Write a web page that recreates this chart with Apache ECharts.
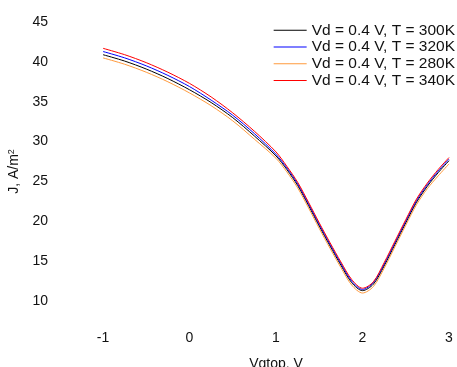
<!DOCTYPE html>
<html>
<head>
<meta charset="utf-8">
<script src="https://cdn.jsdelivr.net/npm/echarts@6/dist/echarts.min.js"></script>
<style>
  html, body { margin: 0; padding: 0; background: #fff; }
  #chart { width: 457px; height: 367px; }
</style>
</head>
<body>
<div id="chart"></div>
<script>
const vgtop = [-1, -0.75, -0.5, -0.25, 0, 0.25, 0.5, 0.75, 1, 1.125, 1.25, 1.375, 1.5, 1.625, 1.75, 1.875, 2, 2.125, 2.25, 2.375, 2.5, 2.625, 2.75, 2.875, 3]

const j300 = [40.9, 40.1, 39.1, 37.9, 36.5, 34.9, 33.0, 30.7, 28.2, 26.5, 24.5, 22.0, 19.4, 16.9, 14.5, 12.3, 11.3, 12.1, 14.4, 17.1, 19.8, 22.4, 24.4, 26.1, 27.6]
const j320 = [41.3, 40.5, 39.5, 38.3, 36.9, 35.2, 33.3, 31.0, 28.4, 26.7, 24.7, 22.2, 19.6, 17.1, 14.7, 12.5, 11.45, 12.3, 14.6, 17.3, 20.0, 22.6, 24.6, 26.3, 27.8]
const j280 = [40.5, 39.7, 38.7, 37.5, 36.1, 34.5, 32.6, 30.3, 27.9, 26.2, 24.2, 21.7, 19.1, 16.6, 14.2, 12.0, 11.0, 11.8, 14.1, 16.8, 19.5, 22.1, 24.1, 25.7, 27.2]
const j340 = [41.7, 40.9, 39.9, 38.7, 37.3, 35.6, 33.6, 31.3, 28.7, 26.9, 24.9, 22.4, 19.8, 17.3, 14.9, 12.7, 11.6, 12.4, 14.8, 17.5, 20.2, 22.8, 24.8, 26.5, 28.0]

const seriesNames = ['Vd = 0.4 V, T = 300K', 'Vd = 0.4 V, T = 320K', 'Vd = 0.4 V, T = 280K', 'Vd = 0.4 V, T = 340K']
const seriesData = [j300, j320, j280, j340]
const seriesColors = ['#000000', '#0000ff', '#ff9a3c', '#ff0000']

const font = 'Liberation Sans, Arial, sans-serif'

const chart = echarts.init(document.getElementById('chart'), null, { renderer: 'canvas' })

const series = seriesNames.map((name, i) => ({
  name,
  type: 'line',
  smooth: 0.3,
  showSymbol: false,
  symbol: 'none',
  color: seriesColors[i],
  lineStyle: { width: 1, color: seriesColors[i] },
  data: vgtop.map((x, k) => [x, seriesData[i][k]])
}))

chart.setOption({
  backgroundColor: '#fff',
  animation: false,
  textStyle: { fontFamily: font },
  grid: { left: 103, right: 8, top: 22, bottom: 66, outerBoundsMode: 'none' },
  legend: {
    orient: 'vertical',
    right: 2,
    top: 22,
    padding: 0,
    icon: 'rect',
    itemWidth: 33,
    itemHeight: 1,
    itemGap: 0,
    textStyle: { fontFamily: font, fontSize: 15.5, color: '#111', lineHeight: 16.7 },
    data: seriesNames
  },
  xAxis: {
    type: 'value',
    min: -1,
    max: 3,
    interval: 1,
    name: 'Vgtop, V',
    nameLocation: 'middle',
    nameGap: 56,
    nameTextStyle: { fontFamily: font, fontSize: 14, color: '#111' },
    axisLine: { show: false },
    axisTick: { show: false },
    splitLine: { show: false },
    axisLabel: { margin: 30, fontSize: 14, color: '#111', fontFamily: font }
  },
  yAxis: {
    type: 'value',
    min: 10,
    max: 45,
    interval: 5,
    name: 'J, A/m{sup|2}',
    nameLocation: 'middle',
    nameGap: 78,
    nameRotate: 90,
    nameTextStyle: {
      fontFamily: font, fontSize: 14, color: '#111',
      padding: [0, 20, 0, 0],
      rich: { sup: { fontSize: 9, verticalAlign: 'top', color: '#111', fontFamily: font, padding: [0, 0, 6, 0] } }
    },
    axisLine: { show: false },
    axisTick: { show: false },
    splitLine: { show: false },
    axisLabel: { margin: 55, fontSize: 14, color: '#111', fontFamily: font }
  },
  series
})
</script>
</body>
</html>
